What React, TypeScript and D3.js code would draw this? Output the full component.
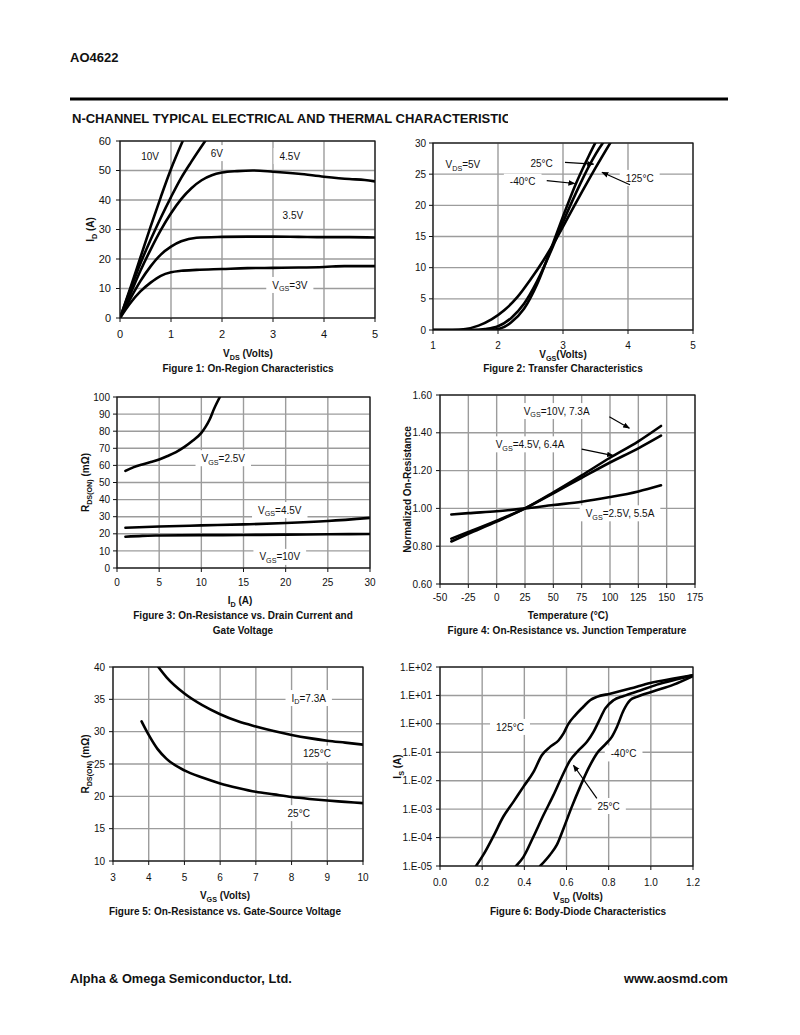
import React from 'react';
import * as d3 from 'd3';

type P = [number, number];

const FONT = '"Liberation Sans", Arial, Helvetica, sans-serif';

// ---------- page texts ----------
const partNumber = 'AO4622';
const sectionTitle = 'N-CHANNEL TYPICAL ELECTRICAL AND THERMAL CHARACTERISTICS';
const footerLeft = 'Alpha & Omega Semiconductor, Ltd.';
const footerRight = 'www.aosmd.com';

// ---------- Figure 1: On-Region Characteristics ----------
const fig1XTicks = [0, 1, 2, 3, 4, 5];
const fig1YTicks = [0, 10, 20, 30, 40, 50, 60];
const fig1Vgs10V: P[] = [[0, 0], [0.2, 10], [0.4, 20.5], [0.6, 31], [0.8, 41], [1.0, 50.5], [1.23, 60]];
const fig1Vgs6V: P[] = [[0, 0], [0.2, 9.5], [0.4, 18.5], [0.6, 26.5], [0.8, 34], [1.0, 41], [1.2, 47.5], [1.4, 53], [1.67, 60]];
const fig1Vgs4_5V: P[] = [[0, 0], [0.2, 8], [0.4, 16], [0.6, 23.2], [0.8, 29.8], [1, 35.5], [1.2, 40.3], [1.4, 44], [1.6, 46.7], [1.8, 48.4], [2, 49.3], [2.3, 49.8], [2.6, 50], [3, 49.6], [3.5, 48.9], [4, 47.9], [4.5, 47.1], [4.8, 46.8], [5, 46.3]];
const fig1Vgs3_5V: P[] = [[0, 0], [0.2, 6.5], [0.4, 12.5], [0.6, 17.5], [0.8, 21.5], [1, 24.2], [1.2, 26], [1.5, 27.2], [2, 27.5], [2.5, 27.6], [3, 27.6], [3.5, 27.5], [4, 27.4], [4.5, 27.4], [5, 27.3]];
const fig1Vgs3V: P[] = [[0, 0], [0.2, 5], [0.4, 9], [0.6, 12], [0.8, 14.3], [1, 15.5], [1.2, 16], [1.5, 16.3], [2, 16.6], [2.5, 16.9], [3, 17], [3.5, 17.1], [4, 17.3], [4.4, 17.6], [5, 17.6]];
const fig1LabelTexts = ['10V', '6V', '4.5V', '3.5V', 'V_{GS}=3V'];
const fig1LabelPos: P[] = [[0.59, 54.9], [1.9, 55.9], [3.33, 54.9], [3.39, 34.9], [3.33, 11.2]];

// ---------- Figure 2: Transfer Characteristics ----------
const fig2XTicks = [1, 2, 3, 4, 5];
const fig2YTicks = [0, 5, 10, 15, 20, 25, 30];
const fig2T125: P[] = [[1, 0], [1.3, 0], [1.5, 0.15], [1.7, 0.7], [1.9, 1.7], [2.1, 3.2], [2.3, 5.3], [2.5, 8.1], [2.7, 11.2], [2.9, 14.7], [3.1, 18.5], [3.3, 22.3], [3.5, 26], [3.75, 30.4]];
const fig2T25: P[] = [[1, 0], [1.6, 0], [1.8, 0.15], [2, 0.6], [2.2, 1.9], [2.4, 4.2], [2.6, 7.8], [2.8, 12.3], [3, 17.3], [3.2, 22], [3.4, 26.3], [3.6, 29.8], [3.65, 30.5]];
const fig2Tm40: P[] = [[1, 0], [1.85, 0], [2.0, 0.15], [2.2, 1.2], [2.4, 3.4], [2.6, 7.3], [2.8, 12.6], [3.0, 18.2], [3.2, 23.5], [3.4, 28], [3.52, 30.5]];
const fig2LabelTexts = ['V_{DS}=5V', '25°C', '-40°C', '125°C'];
const fig2LabelPos: P[] = [[1.46, 26.5], [2.67, 26.8], [2.38, 23.8], [4.18, 24.4]];
const fig2Arrows: [P, P][] = [[[3.03, 26.9], [3.47, 26.6]], [[2.75, 23.95], [3.18, 23.5]], [[4.03, 23.3], [3.6, 25.3]]];

// ---------- Figure 3: On-Resistance vs. Drain Current ----------
const fig3XTicks = [0, 5, 10, 15, 20, 25, 30];
const fig3YTicks = [0, 10, 20, 30, 40, 50, 60, 70, 80, 90, 100];
const fig3Vgs2_5V: P[] = [[1, 56.8], [2, 59], [3, 60.5], [4, 62], [5, 63.5], [6, 65.5], [7, 67.8], [8, 70.8], [9, 74.5], [10, 79], [10.5, 82.5], [11, 87], [11.5, 93], [12.2, 100]];
const fig3Vgs4_5V: P[] = [[1, 23.5], [5, 24.3], [10, 24.9], [15, 25.5], [20, 26.3], [25, 27.5], [30, 29.3]];
const fig3Vgs10V: P[] = [[1, 18.3], [3, 18.8], [5, 19], [10, 19.2], [15, 19.3], [20, 19.5], [25, 19.7], [30, 19.9]];
const fig3LabelTexts = ['V_{GS}=2.5V', 'V_{GS}=4.5V', 'V_{GS}=10V'];
const fig3LabelPos: P[] = [[12.6, 64.2], [19.3, 33.9], [19.3, 6.5]];

// ---------- Figure 4: On-Resistance vs. Junction Temperature ----------
const fig4XTicks = [-50, -25, 0, 25, 50, 75, 100, 125, 150, 175];
const fig4YTicks = [0.6, 0.8, 1.0, 1.2, 1.4, 1.6];
const fig4Vgs10V: P[] = [[-40, 0.825], [-25, 0.865], [0, 0.93], [25, 1.0], [50, 1.085], [75, 1.175], [100, 1.268], [125, 1.355], [145, 1.436]];
const fig4Vgs4_5V: P[] = [[-40, 0.84], [-25, 0.875], [0, 0.935], [25, 1.0], [50, 1.08], [75, 1.162], [100, 1.243], [125, 1.318], [145, 1.385]];
const fig4Vgs2_5V: P[] = [[-40, 0.968], [-25, 0.975], [0, 0.985], [25, 1.0], [50, 1.018], [75, 1.035], [100, 1.06], [125, 1.09], [145, 1.122]];
const fig4LabelTexts = ['V_{GS}=10V, 7.3A', 'V_{GS}=4.5V, 6.4A', 'V_{GS}=2.5V, 5.5A'];
const fig4LabelPos: P[] = [[52.9, 1.515], [29.4, 1.339], [108.8, 0.974]];
const fig4Arrows: [P, P][] = [[[99.4, 1.485], [117.1, 1.424]], [[75.0, 1.314], [102.9, 1.279]]];

// ---------- Figure 5: On-Resistance vs. Gate-Source Voltage ----------
const fig5XTicks = [3, 4, 5, 6, 7, 8, 9, 10];
const fig5YTicks = [10, 15, 20, 25, 30, 35, 40];
const fig5T125: P[] = [[4.27, 40], [4.5, 38.4], [5, 35.9], [5.5, 34.1], [6, 32.7], [6.5, 31.6], [7, 30.8], [7.5, 30.1], [8, 29.5], [8.5, 29], [9, 28.6], [9.5, 28.3], [10, 28]];
const fig5T25: P[] = [[3.8, 31.6], [4, 29.5], [4.25, 27.3], [4.5, 25.8], [5, 24], [5.5, 22.9], [6, 22], [6.5, 21.3], [7, 20.7], [7.5, 20.3], [8, 19.9], [8.5, 19.6], [9, 19.35], [9.5, 19.15], [10, 18.95]];
const fig5LabelTexts = ['I_{D}=7.3A', '125°C', '25°C'];
const fig5LabelPos: P[] = [[8.48, 35.2], [8.71, 26.6], [8.2, 17.4]];

// ---------- Figure 6: Body-Diode Characteristics ----------
const fig6XTicks = [0, 0.2, 0.4, 0.6, 0.8, 1.0, 1.2];
const fig6YTicks = [1e-5, 1e-4, 1e-3, 1e-2, 1e-1, 1, 10, 100];
const fig6YTickLabels = ['1.E-05', '1.E-04', '1.E-03', '1.E-02', '1.E-01', '1.E+00', '1.E+01', '1.E+02'];
const fig6T125: P[] = [[0.171, 1e-5], [0.206, 2.5e-5], [0.253, 1.1e-4], [0.3, 5.4e-4], [0.348, 1.8e-3], [0.396, 6.2e-3], [0.443, 2.0e-2], [0.483, 7.9e-2], [0.522, 0.155], [0.562, 0.26], [0.586, 0.46], [0.609, 1.0], [0.641, 2.0], [0.68, 4.0], [0.712, 6.8], [0.744, 8.9], [0.807, 11.5], [0.902, 17.4], [0.997, 27.5], [1.108, 39], [1.2, 51]];
const fig6T25: P[] = [[0.361, 1e-5], [0.396, 2.1e-5], [0.443, 1.07e-4], [0.491, 6.2e-4], [0.538, 3.1e-3], [0.578, 1.38e-2], [0.617, 5.2e-2], [0.657, 0.117], [0.697, 0.234], [0.728, 0.52], [0.752, 1.17], [0.784, 3.5], [0.823, 6.8], [0.871, 9.5], [0.95, 15], [1.029, 24], [1.124, 37], [1.2, 51]];
const fig6Tm40: P[] = [[0.475, 1e-5], [0.522, 2.5e-5], [0.554, 5.5e-5], [0.586, 2.1e-4], [0.625, 1.2e-3], [0.665, 6.2e-3], [0.704, 2.7e-2], [0.744, 9.1e-2], [0.784, 0.19], [0.815, 0.35], [0.839, 0.78], [0.871, 3.0], [0.902, 6.8], [0.934, 8.9], [1.013, 14], [1.108, 24], [1.2, 48]];
const fig6LabelTexts = ['125°C', '-40°C', '25°C'];
const fig6LabelPos: P[] = [[0.332, 0.78], [0.871, 0.091], [0.8, 1.29e-3]];
const fig6Arrows: [P, P][] = [[[0.744, 2.4e-3], [0.633, 3.5e-2]]];

// ---------- helpers ----------
let measureCtx: CanvasRenderingContext2D | null = null;
function measure(s: string, size: number): number {
  if (!measureCtx) {
    const cv = document.createElement('canvas');
    measureCtx = cv.getContext('2d');
  }
  const ctx = measureCtx!;
  let w = 0;
  s.split(/(_\{[^}]*\})/).filter(Boolean).forEach((p) => {
    const sub = p.startsWith('_{');
    const t = sub ? p.slice(2, -1) : p;
    ctx.font = `${sub ? size * 0.72 : size}px "Liberation Sans", Arial`;
    w += ctx.measureText(t).width;
  });
  return w;
}

function rich(s: string, size: number) {
  const parts = s.split(/(_\{[^}]*\})/).filter(Boolean);
  let shifted = false;
  const out: React.ReactNode[] = [];
  parts.forEach((p, i) => {
    if (p.startsWith('_{')) {
      shifted = true;
      out.push(<tspan key={i} fontSize={size * 0.72} dy={size * 0.28}>{p.slice(2, -1)}</tspan>);
    } else {
      const dy = shifted ? -size * 0.28 : undefined;
      shifted = false;
      out.push(<tspan key={i} dy={dy}>{p}</tspan>);
    }
  });
  return out;
}

interface LabelCfg { text: string; pos: P; padX?: number }
interface PanelCfg {
  id: string;
  left: number; top: number; right: number; bottom: number;
  xDomain: [number, number]; yDomain: [number, number]; yLog?: boolean;
  xTicks: number[]; yTicks: number[];
  xFmt: (v: number, i: number) => string; yFmt: (v: number, i: number) => string;
  tickSize: number; xTickDy: number; yTickGap: number;
  series: P[][];
  labels: LabelCfg[]; labelSize: number;
  arrows?: [P, P][];
  xLabel: string; xLabelX: number; xLabelY: number;
  yLabel?: string; yLabelX?: number;
  caption: string[]; captionY: number; captionX: number;
}

function Panel({ c }: { c: PanelCfg }) {
  const x = d3.scaleLinear().domain(c.xDomain).range([c.left, c.right]);
  const y = (c.yLog ? d3.scaleLog() : d3.scaleLinear()).domain(c.yDomain).range([c.bottom, c.top]);
  const line = d3.line<P>().x((d) => x(d[0])).y((d) => y(d[1])).curve(d3.curveMonotoneX);
  const grid = '#9c9c9c';
  const cy = (c.top + c.bottom) / 2;
  return (
    <g>
      <defs>
        <clipPath id={`clip-${c.id}`}>
          <rect x={c.left} y={c.top} width={c.right - c.left} height={c.bottom - c.top} />
        </clipPath>
      </defs>
      {c.xTicks.map((t) => (
        <line key={`gx${t}`} x1={x(t)} x2={x(t)} y1={c.top} y2={c.bottom} stroke={grid} strokeWidth={1.4} />
      ))}
      {c.yTicks.map((t) => (
        <line key={`gy${t}`} x1={c.left} x2={c.right} y1={y(t)} y2={y(t)} stroke={grid} strokeWidth={1.4} />
      ))}
      {c.labels.map((l, i) => {
        const w = measure(l.text, c.labelSize) + 2 * (l.padX ?? 6);
        const h = c.labelSize + 6;
        return <rect key={`lb${i}`} x={x(l.pos[0]) - w / 2} y={y(l.pos[1]) - h / 2} width={w} height={h} fill="#fff" />;
      })}
      {c.labels.map((l, i) => (
        <text key={`lt${i}`} x={x(l.pos[0])} y={y(l.pos[1]) + c.labelSize * 0.36} fontSize={c.labelSize} textAnchor="middle" fill="#111">
          {rich(l.text, c.labelSize)}
        </text>
      ))}
      <g clipPath={`url(#clip-${c.id})`}>
        {c.series.map((s, i) => (
          <path key={`s${i}`} d={line(s) || ''} fill="none" stroke="#000" strokeWidth={2.6} strokeLinejoin="round" strokeLinecap="round" />
        ))}
      </g>
      <rect x={c.left} y={c.top} width={c.right - c.left} height={c.bottom - c.top} fill="none" stroke="#111" strokeWidth={1.2} />
      {c.xTicks.map((t, i) => (
        <g key={`tx${t}`}>
          <line x1={x(t)} x2={x(t)} y1={c.bottom} y2={c.bottom + 4} stroke="#111" strokeWidth={1} />
          <text x={x(t)} y={c.bottom + c.xTickDy} fontSize={c.tickSize} textAnchor="middle" fill="#111">{c.xFmt(t, i)}</text>
        </g>
      ))}
      {c.yTicks.map((t, i) => (
        <g key={`ty${t}`}>
          <line x1={c.left - 4} x2={c.left} y1={y(t)} y2={y(t)} stroke="#111" strokeWidth={1} />
          <text x={c.left - c.yTickGap} y={y(t) + c.tickSize * 0.36} fontSize={c.tickSize} textAnchor="end" fill="#111">{c.yFmt(t, i)}</text>
        </g>
      ))}
      {(c.arrows || []).map((a, i) => (
        <line key={`a${i}`} x1={x(a[0][0])} y1={y(a[0][1])} x2={x(a[1][0])} y2={y(a[1][1])} stroke="#000" strokeWidth={1.2} markerEnd="url(#arrowHead)" />
      ))}
      <text x={c.xLabelX} y={c.xLabelY} fontSize={10} fontWeight="bold" textAnchor="middle" fill="#111">{rich(c.xLabel, 10)}</text>
      {c.yLabel && (
        <text transform={`translate(${c.yLabelX},${cy}) rotate(-90)`} fontSize={10} fontWeight="bold" textAnchor="middle" fill="#111">
          {rich(c.yLabel, 10)}
        </text>
      )}
      {c.caption.map((s, i) => (
        <text key={`c${i}`} x={c.captionX} y={c.captionY + i * 14.5} fontSize={10} fontWeight="bold" textAnchor="middle" fill="#111">{s}</text>
      ))}
    </g>
  );
}

const mkLabels = (texts: string[], pos: P[]): LabelCfg[] => texts.map((t, i) => ({ text: t, pos: pos[i] }));
const intFmt = (v: number) => String(v);

const panels: PanelCfg[] = [
  {
    id: 'f1', left: 120, top: 141, right: 375, bottom: 318,
    xDomain: [0, 5], yDomain: [0, 60], xTicks: fig1XTicks, yTicks: fig1YTicks,
    xFmt: intFmt, yFmt: intFmt, tickSize: 11, xTickDy: 20, yTickGap: 9,
    series: [fig1Vgs10V, fig1Vgs6V, fig1Vgs4_5V, fig1Vgs3_5V, fig1Vgs3V],
    labels: mkLabels(fig1LabelTexts, fig1LabelPos), labelSize: 10,
    xLabel: 'V_{DS} (Volts)', xLabelX: 248, xLabelY: 357,
    yLabel: 'I_{D} (A)', yLabelX: 94,
    caption: ['Figure 1: On-Region Characteristics'], captionX: 248, captionY: 372,
  },
  {
    id: 'f2', left: 433, top: 143, right: 693, bottom: 330,
    xDomain: [1, 5], yDomain: [0, 30], xTicks: fig2XTicks, yTicks: fig2YTicks,
    xFmt: intFmt, yFmt: intFmt, tickSize: 10, xTickDy: 19, yTickGap: 7,
    series: [fig2T125, fig2T25, fig2Tm40],
    labels: mkLabels(fig2LabelTexts, fig2LabelPos), labelSize: 10,
    arrows: fig2Arrows,
    xLabel: 'V_{GS}(Volts)', xLabelX: 563, xLabelY: 358,
    caption: ['Figure 2: Transfer Characteristics'], captionX: 563, captionY: 372,
  },
  {
    id: 'f3', left: 117, top: 397, right: 370, bottom: 568,
    xDomain: [0, 30], yDomain: [0, 100], xTicks: fig3XTicks, yTicks: fig3YTicks,
    xFmt: intFmt, yFmt: intFmt, tickSize: 10, xTickDy: 18, yTickGap: 7,
    series: [fig3Vgs2_5V, fig3Vgs4_5V, fig3Vgs10V],
    labels: mkLabels(fig3LabelTexts, fig3LabelPos), labelSize: 10,
    xLabel: 'I_{D} (A)', xLabelX: 240, xLabelY: 604,
    yLabel: 'R_{DS(ON)} (mΩ)', yLabelX: 89,
    caption: ['Figure 3: On-Resistance vs. Drain Current and', 'Gate Voltage'], captionX: 243, captionY: 619,
  },
  {
    id: 'f4', left: 440, top: 395, right: 695, bottom: 584,
    xDomain: [-50, 175], yDomain: [0.6, 1.6], xTicks: fig4XTicks, yTicks: fig4YTicks,
    xFmt: intFmt, yFmt: (v) => v.toFixed(2), tickSize: 10, xTickDy: 17, yTickGap: 8,
    series: [fig4Vgs10V, fig4Vgs4_5V, fig4Vgs2_5V],
    labels: mkLabels(fig4LabelTexts, fig4LabelPos), labelSize: 10,
    arrows: fig4Arrows,
    xLabel: 'Temperature (°C)', xLabelX: 568, xLabelY: 619,
    yLabel: 'Normalized On-Resistance', yLabelX: 411,
    caption: ['Figure 4: On-Resistance vs. Junction Temperature'], captionX: 567, captionY: 634,
  },
  {
    id: 'f5', left: 113, top: 667, right: 363, bottom: 861,
    xDomain: [3, 10], yDomain: [10, 40], xTicks: fig5XTicks, yTicks: fig5YTicks,
    xFmt: intFmt, yFmt: intFmt, tickSize: 10, xTickDy: 20, yTickGap: 8,
    series: [fig5T125, fig5T25],
    labels: mkLabels(fig5LabelTexts, fig5LabelPos), labelSize: 10,
    xLabel: 'V_{GS} (Volts)', xLabelX: 225, xLabelY: 899,
    yLabel: 'R_{DS(ON)} (mΩ)', yLabelX: 89,
    caption: ['Figure 5: On-Resistance vs. Gate-Source Voltage'], captionX: 225, captionY: 915,
  },
  {
    id: 'f6', left: 440, top: 667, right: 693, bottom: 866, yLog: true,
    xDomain: [0, 1.2], yDomain: [1e-5, 100], xTicks: fig6XTicks, yTicks: fig6YTicks,
    xFmt: (v) => v.toFixed(1), yFmt: (_v, i) => fig6YTickLabels[i], tickSize: 10, xTickDy: 20, yTickGap: 8,
    series: [fig6T125, fig6T25, fig6Tm40],
    labels: mkLabels(fig6LabelTexts, fig6LabelPos), labelSize: 10,
    arrows: fig6Arrows,
    xLabel: 'V_{SD} (Volts)', xLabelX: 578, xLabelY: 900,
    yLabel: 'I_{S} (A)', yLabelX: 401,
    caption: ['Figure 6: Body-Diode Characteristics'], captionX: 578, captionY: 915,
  },
];

export default function App() {
  return (
    <svg width={800} height={1035} viewBox="0 0 800 1035" style={{ position: 'absolute', left: 0, top: 0, background: '#fff' }} fontFamily={FONT}>
      <defs>
        <marker id="arrowHead" viewBox="0 0 10 10" refX={9} refY={5} markerWidth={7} markerHeight={7} markerUnits="userSpaceOnUse" orient="auto">
          <path d="M0,1 L10,5 L0,9 Z" fill="#000" />
        </marker>
        <clipPath id="titleClip">
          <rect x={60} y={100} width={448} height={30} />
        </clipPath>
      </defs>
      <rect x={0} y={0} width={800} height={1035} fill="#fff" />
      <text x={70} y={62} fontSize={13} fontWeight="bold" fill="#111">{partNumber}</text>
      <line x1={70} x2={728} y1={99} y2={99} stroke="#000" strokeWidth={3} />
      <text x={72} y={123} fontSize={13} fontWeight="bold" fill="#111" clipPath="url(#titleClip)">{sectionTitle}</text>
      {panels.map((c) => <Panel key={c.id} c={c} />)}
      <text x={70} y={983} fontSize={12.8} fontWeight="bold" fill="#111">{footerLeft}</text>
      <text x={728} y={983} fontSize={12.8} fontWeight="bold" fill="#111" textAnchor="end">{footerRight}</text>
    </svg>
  );
}
